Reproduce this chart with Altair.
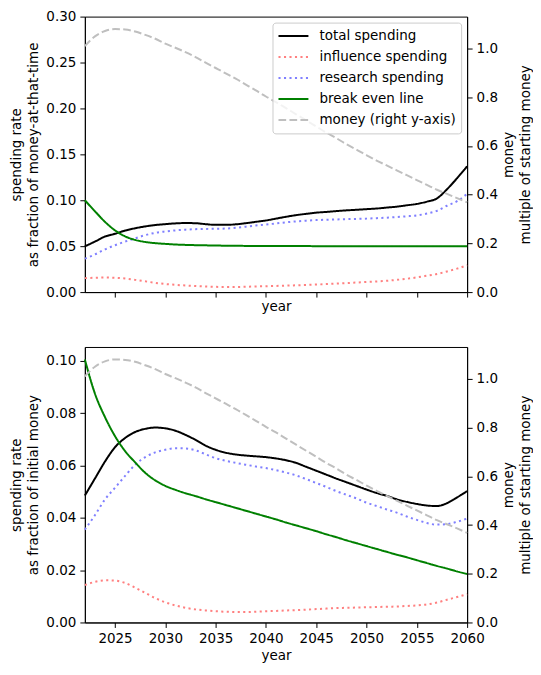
import altair as alt
import pandas as pd

years = [2022, 2023, 2024, 2025, 2026, 2027, 2028, 2029, 2030, 2031,
         2032, 2033, 2034, 2035, 2036, 2037, 2038, 2039, 2040, 2041,
         2042, 2043, 2044, 2045, 2046, 2047, 2048, 2049, 2050, 2051,
         2052, 2053, 2054, 2055, 2056, 2057, 2058, 2059, 2060]

series_names = ["total spending", "influence spending", "research spending",
                "break even line", "money (right y-axis)"]
series_colors = ["#000000", "#ff8080", "#8080ff", "#008000", "#bfbfbf"]
series_dashes = [[1, 0], [2.1, 3.4], [2.1, 3.4], [1, 0], [7.7, 3.3]]

# top panel: fraction of money-at-that-time
top_total = [0.0498, 0.0550, 0.0605, 0.0635, 0.0670, 0.0695, 0.0715, 0.0730, 0.0740, 0.0748,
             0.0752, 0.0750, 0.0740, 0.0732, 0.0732, 0.0738, 0.0750, 0.0765, 0.0780, 0.0800,
             0.0820, 0.0838, 0.0852, 0.0865, 0.0873, 0.0882, 0.0890, 0.0896, 0.0903, 0.0910,
             0.0920, 0.0930, 0.0945, 0.0960, 0.0985, 0.1020, 0.1120, 0.1240, 0.1370]
top_influence = [0.0152, 0.0156, 0.0159, 0.0156, 0.0148, 0.0133, 0.0117, 0.0101, 0.0088, 0.0079,
                 0.0072, 0.0066, 0.0061, 0.0057, 0.0056, 0.0056, 0.0058, 0.0061, 0.0064, 0.0067,
                 0.0070, 0.0074, 0.0078, 0.0082, 0.0087, 0.0092, 0.0098, 0.0104, 0.0110, 0.0116,
                 0.0123, 0.0133, 0.0145, 0.0160, 0.0178, 0.0197, 0.0225, 0.0255, 0.0292]
top_research = [0.0364, 0.0410, 0.0465, 0.0510, 0.0550, 0.0585, 0.0620, 0.0645, 0.0660, 0.0672,
                0.0680, 0.0685, 0.0688, 0.0689, 0.0692, 0.0700, 0.0712, 0.0725, 0.0735, 0.0748,
                0.0760, 0.0770, 0.0778, 0.0784, 0.0788, 0.0791, 0.0794, 0.0797, 0.0800, 0.0805,
                0.0810, 0.0817, 0.0825, 0.0835, 0.0855, 0.0885, 0.0940, 0.0990, 0.1070]
top_break_even = [0.1000, 0.0880, 0.0765, 0.0672, 0.0607, 0.0568, 0.0546, 0.0533, 0.0525, 0.0518,
                  0.0514, 0.0511, 0.0509, 0.0507, 0.0505, 0.0504, 0.0503, 0.0502, 0.0502, 0.0501,
                  0.0501, 0.0501, 0.0501, 0.0500, 0.0500, 0.0500, 0.0500, 0.0500, 0.0500, 0.0500,
                  0.0500, 0.0500, 0.0500, 0.0500, 0.0500, 0.0500, 0.0500, 0.0500, 0.0500]

# bottom panel: fraction of initial money
bot_total = [0.0485, 0.0550, 0.0615, 0.0670, 0.0705, 0.0728, 0.0740, 0.0745, 0.0742, 0.0733,
             0.0717, 0.0698, 0.0676, 0.0660, 0.0649, 0.0642, 0.0638, 0.0635, 0.0632, 0.0627,
             0.0620, 0.0610, 0.0595, 0.0580, 0.0565, 0.0550, 0.0536, 0.0522, 0.0508, 0.0495,
             0.0484, 0.0471, 0.0461, 0.0453, 0.0447, 0.0445, 0.0456, 0.0478, 0.0502]
bot_influence = [0.0143, 0.0155, 0.0161, 0.0160, 0.0151, 0.0133, 0.0113, 0.0093, 0.0077, 0.0065,
                 0.0056, 0.0050, 0.0046, 0.0043, 0.0041, 0.0040, 0.0040, 0.0041, 0.0043, 0.0044,
                 0.0046, 0.0047, 0.0049, 0.0051, 0.0053, 0.0055, 0.0056, 0.0057, 0.0058, 0.0059,
                 0.0060, 0.0061, 0.0063, 0.0065, 0.0069, 0.0076, 0.0087, 0.0097, 0.0108]
bot_research = [0.0355, 0.0410, 0.0470, 0.0515, 0.0560, 0.0603, 0.0632, 0.0650, 0.0660, 0.0666,
                0.0665, 0.0658, 0.0643, 0.0628, 0.0618, 0.0610, 0.0603, 0.0596, 0.0590, 0.0582,
                0.0573, 0.0562, 0.0548, 0.0533, 0.0518, 0.0502, 0.0488, 0.0474, 0.0458, 0.0445,
                0.0432, 0.0420, 0.0405, 0.0392, 0.0380, 0.0374, 0.0376, 0.0385, 0.0397]
bot_break_even = [0.1005, 0.0875, 0.0785, 0.0712, 0.0655, 0.0612, 0.0572, 0.0543, 0.0522, 0.0507,
                  0.0494, 0.0483, 0.0471, 0.0460, 0.0449, 0.0438, 0.0427, 0.0416, 0.0405, 0.0394,
                  0.0382, 0.0371, 0.0360, 0.0349, 0.0337, 0.0326, 0.0314, 0.0303, 0.0292, 0.0281,
                  0.0270, 0.0259, 0.0249, 0.0238, 0.0227, 0.0216, 0.0206, 0.0195, 0.0185]

# money, multiple of starting money (right axis, both panels)
money = [1.010, 1.050, 1.072, 1.080, 1.078, 1.070, 1.056, 1.040, 1.020, 1.003,
         0.985, 0.965, 0.942, 0.920, 0.898, 0.876, 0.852, 0.828, 0.803, 0.780,
         0.755, 0.730, 0.705, 0.680, 0.655, 0.632, 0.607, 0.585, 0.562, 0.540,
         0.520, 0.500, 0.480, 0.460, 0.440, 0.420, 0.403, 0.386, 0.368]

x_ticks = [2025, 2030, 2035, 2040, 2045, 2050, 2055, 2060]
top_left_ticks = [0.0, 0.05, 0.10, 0.15, 0.20, 0.25, 0.30]
bot_left_ticks = [0.0, 0.02, 0.04, 0.06, 0.08, 0.10]
right_ticks = [0.0, 0.2, 0.4, 0.6, 0.8, 1.0]

FS = 13.5
LH = 17


def long_frame(pairs):
    rows = []
    for name, vals in pairs:
        for yr, v in zip(years, vals):
            rows.append({"year": yr, "value": v, "series": name})
    return pd.DataFrame(rows)


color_scale = alt.Scale(domain=series_names, range=series_colors)
dash_scale = alt.Scale(domain=series_names, range=series_dashes)


def panel(left_pairs, left_max, left_ticks, left_title, show_xlabels, show_legend):
    left_df = long_frame(left_pairs)
    money_df = long_frame([(series_names[4], money)])
    x = alt.X("year:Q", scale=alt.Scale(domain=[2022, 2060], nice=False, zero=False),
              axis=alt.Axis(values=x_ticks, format="d", labels=show_xlabels, title="year",
                            titlePadding=4 if show_xlabels else 2))
    if show_legend:
        legend = alt.Legend(title=None)
    else:
        legend = None
    color = alt.Color("series:N", scale=color_scale, legend=legend, title=None)
    dash = alt.StrokeDash("series:N", scale=dash_scale, legend=legend, title=None)

    left = alt.Chart(left_df).mark_line(strokeWidth=2, interpolate="monotone").encode(
        x=x,
        y=alt.Y("value:Q", scale=alt.Scale(domain=[0, left_max], nice=False, zero=True),
                axis=alt.Axis(orient="left", values=left_ticks, format=".2f",
                              title=left_title, titlePadding=5)),
        color=color,
        strokeDash=dash,
    )
    right = alt.Chart(money_df).mark_line(strokeWidth=2, interpolate="monotone").encode(
        x=x,
        y=alt.Y("value:Q", scale=alt.Scale(domain=[0, 1.131], nice=False, zero=True),
                axis=alt.Axis(orient="right", values=right_ticks, format=".1f",
                              title=["money", "multiple of starting money"],
                              titleAngle=270, titleBaseline="top", titlePadding=4 - LH)),
        color=color,
        strokeDash=dash,
    )
    return alt.layer(left, right).resolve_scale(y="independent").properties(
        width=383, height=276)


top = panel([(series_names[0], top_total), (series_names[1], top_influence),
             (series_names[2], top_research), (series_names[3], top_break_even)],
            0.30, top_left_ticks, ["spending rate", "as fraction of money-at-that-time"],
            False, True)
bottom = panel([(series_names[0], bot_total), (series_names[1], bot_influence),
                (series_names[2], bot_research), (series_names[3], bot_break_even)],
               0.1053, bot_left_ticks, ["spending rate", "as fraction of initial money"],
               True, False)

chart = alt.vconcat(top, bottom, spacing=32).resolve_scale(
    color="independent", strokeDash="independent"
).resolve_legend(
    color="independent", strokeDash="independent"
).properties(
    padding={"left": 1, "top": 0, "right": 0, "bottom": 0}
).configure_view(
    stroke="#000000", strokeWidth=1
).configure_axis(
    grid=False, domainColor="#000000", tickColor="#000000", labelColor="#000000",
    titleColor="#000000", labelFont="DejaVu Sans", titleFont="DejaVu Sans",
    labelFontSize=FS, titleFontSize=FS, titleFontWeight="normal",
    tickSize=5, labelPadding=4, domainWidth=1, tickWidth=1, titleLineHeight=LH,
    labelFlush=False, labelOverlap=False
).configure_legend(
    orient="top-right", offset=6, fillColor="rgba(255,255,255,0.8)",
    strokeColor="#cccccc", cornerRadius=3, padding=5,
    labelFont="DejaVu Sans", labelFontSize=FS, labelColor="#000000",
    symbolType="stroke", symbolSize=900, symbolStrokeWidth=2,
    rowPadding=4, clipHeight=17, labelOffset=10
)

chart.save("out.html", embed_options={"renderer": "svg", "actions": False})
